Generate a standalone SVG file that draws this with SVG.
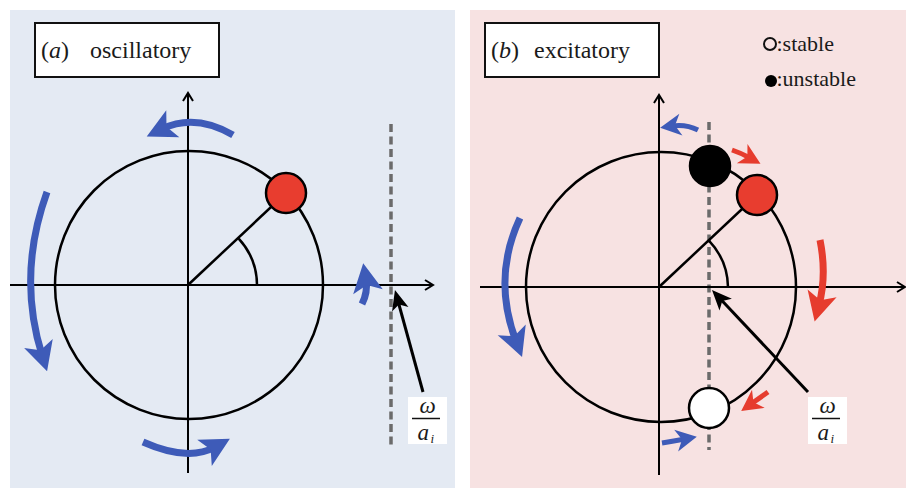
<svg xmlns="http://www.w3.org/2000/svg" width="906" height="490" viewBox="0 0 906 490">
<style>
.serif{font-family:"Liberation Serif","Times New Roman",serif;fill:#1a1a1a}
.title{font-size:24px}
.frac{font-size:23px;font-style:italic}
.sub{font-size:13px;font-style:italic}
.axis{stroke:#000;stroke-width:2;fill:none}
.circ{stroke:#000;stroke-width:2.5;fill:none}
.rad{stroke:#000;stroke-width:2.5;fill:none}
.dash{stroke:#6b6b6b;stroke-width:3.5;stroke-dasharray:8 4.5;fill:none}
.box{fill:#fff;stroke:#111;stroke-width:2}
.blueB{stroke:#3e5bb8;stroke-width:7;fill:none}
.redB{stroke:#e63c2e;stroke-width:7;fill:none}
.blueS{stroke:#3e5bb8;stroke-width:5;fill:none}
.redS{stroke:#e63c2e;stroke-width:5;fill:none}
.ptr{stroke:#000;stroke-width:3;fill:none}
</style>
<defs>
<marker id="axArrow" markerUnits="userSpaceOnUse" orient="auto" overflow="visible" markerWidth="1" markerHeight="1">
<path d="M-8,-5 L0,0 L-8,5" fill="none" stroke="#000" stroke-width="2"/>
</marker>
<marker id="blueBig" markerUnits="userSpaceOnUse" orient="auto" overflow="visible" markerWidth="1" markerHeight="1">
<path d="M17,0 L-12,-15 L-5,0 L-12,15 Z" fill="#3e5bb8"/>
</marker>
<marker id="redBig" markerUnits="userSpaceOnUse" orient="auto" overflow="visible" markerWidth="1" markerHeight="1">
<path d="M17,0 L-12,-15 L-5,0 L-12,15 Z" fill="#e63c2e"/>
</marker>
<marker id="blueSmall" markerUnits="userSpaceOnUse" orient="auto" overflow="visible" markerWidth="1" markerHeight="1">
<path d="M12,0 L-9,-11 L-3,0 L-9,11 Z" fill="#3e5bb8"/>
</marker>
<marker id="redSmall" markerUnits="userSpaceOnUse" orient="auto" overflow="visible" markerWidth="1" markerHeight="1">
<path d="M12,0 L-9,-11 L-3,0 L-9,11 Z" fill="#e63c2e"/>
</marker>
<marker id="ptrHead" markerUnits="userSpaceOnUse" orient="auto" overflow="visible" markerWidth="1" markerHeight="1">
<path d="M13,0 L-7,-8.5 L-2,0 L-7,8.5 Z" fill="#000"/>
</marker>
</defs>

<rect width="906" height="490" fill="#fff"/>

<!-- Panel (a) -->
<g id="panel-a">
<rect x="10" y="10" width="445" height="478" fill="#e4eaf3"/>
<g id="title-a">
<rect class="box" x="35" y="23" width="184" height="54"/>
<text class="serif title" x="41" y="58">(<tspan font-style="italic">a</tspan>)</text>
<text class="serif title" x="90" y="58">oscillatory</text>
</g>
<g id="axes-a">
<line class="dash" x1="391" y1="124" x2="391" y2="445"/>
<path class="axis" d="M10,285 H433" marker-end="url(#axArrow)"/>
<path class="axis" d="M188,473 V93" marker-end="url(#axArrow)"/>
</g>
<g id="circle-a">
<circle class="circ" cx="189" cy="285" r="134"/>
<path class="rad" d="M188,285 L286,193"/>
<path class="rad" d="M257,285 A69,69 0 0 0 238.7,238.6"/>
</g>
<g id="dot-a">
<circle cx="286" cy="193" r="20" fill="#e83d2f" stroke="#000" stroke-width="2.5"/>
</g>
<g id="label-a">
<rect x="408" y="397" width="39" height="47" fill="#fff"/>
<text class="serif frac" x="427.5" y="413" text-anchor="middle">ω</text>
<line x1="412" y1="418.5" x2="440" y2="418.5" stroke="#111" stroke-width="1.5"/>
<text class="serif frac" x="417.5" y="440">a</text>
<text class="serif sub" x="430.5" y="443">i</text>
</g>
</g>

<!-- Panel (b) -->
<g id="panel-b">
<rect x="470" y="10" width="436" height="478" fill="#f7e2e2"/>
<g id="title-b">
<rect class="box" x="485" y="23" width="174" height="54"/>
<text class="serif title" x="491" y="58">(<tspan font-style="italic">b</tspan>)</text>
<text class="serif title" x="534" y="58">excitatory</text>
</g>
<g id="legend-b">
<circle cx="770" cy="44" r="6" fill="none" stroke="#111" stroke-width="2"/>
<text class="serif" x="776.5" y="51" font-size="22">:stable</text>
<circle cx="771" cy="81" r="6" fill="#000"/>
<text class="serif" x="776.5" y="86" font-size="22">:unstable</text>
</g>
<g id="axes-b">
<line class="dash" x1="709" y1="122" x2="709" y2="450"/>
<path class="axis" d="M480,287 H905" marker-end="url(#axArrow)"/>
<path class="axis" d="M659,475 V95" marker-end="url(#axArrow)"/>
</g>
<g id="circle-b">
<circle class="circ" cx="661" cy="287" r="135"/>
<path class="rad" d="M659,287 L757,195"/>
<path class="rad" d="M728,287 A69,69 0 0 0 708.7,240.4"/>
</g>
<g id="dot-unstable-b">
<circle cx="710" cy="166" r="20" fill="#000" stroke="#000" stroke-width="2.5"/>
</g>
<g id="dot-red-b">
<circle cx="757" cy="195" r="20" fill="#e83d2f" stroke="#000" stroke-width="2.5"/>
</g>
<g id="dot-stable-b">
<circle cx="709" cy="408" r="20" fill="#fff" stroke="#000" stroke-width="2.5"/>
</g>
<g id="label-b">
<rect x="808" y="397" width="39" height="47" fill="#fff"/>
<text class="serif frac" x="827.5" y="413" text-anchor="middle">ω</text>
<line x1="812" y1="418.5" x2="840" y2="418.5" stroke="#111" stroke-width="1.5"/>
<text class="serif frac" x="817.5" y="440">a</text>
<text class="serif sub" x="830.5" y="443">i</text>
</g>
</g>

<!-- Connectors / flow arrows -->
<g id="connectors">
<path class="blueB" d="M233,135 Q195,113 162,129" marker-end="url(#blueBig)"/>
<path class="blueB" d="M47,192 Q17,275 42,355" marker-end="url(#blueBig)"/>
<path class="blueB" d="M143,442 Q188,462 215,447" marker-end="url(#blueBig)"/>
<path class="blueB" d="M362,304 Q368,292 366,280" marker-end="url(#blueBig)"/>
<path class="ptr" d="M423,392 L398.4,302.5" marker-end="url(#ptrHead)"/>

<path class="blueS" d="M698,130 Q686,124 672,126" marker-end="url(#blueSmall)"/>
<path class="blueB" d="M520,218 Q492,278 516,341" marker-end="url(#blueBig)"/>
<path class="blueS" d="M662,443 Q674,441 685,439" marker-end="url(#blueSmall)"/>
<path class="redS" d="M732,150 Q741,153 750,158" marker-end="url(#redSmall)"/>
<path class="redB" d="M820,240 Q827,275 819,305" marker-end="url(#redBig)"/>
<path class="redS" d="M768,392 L751,404" marker-end="url(#redSmall)"/>
<path class="ptr" d="M808,392 L720.9,299.5" marker-end="url(#ptrHead)"/>
</g>
</svg>
